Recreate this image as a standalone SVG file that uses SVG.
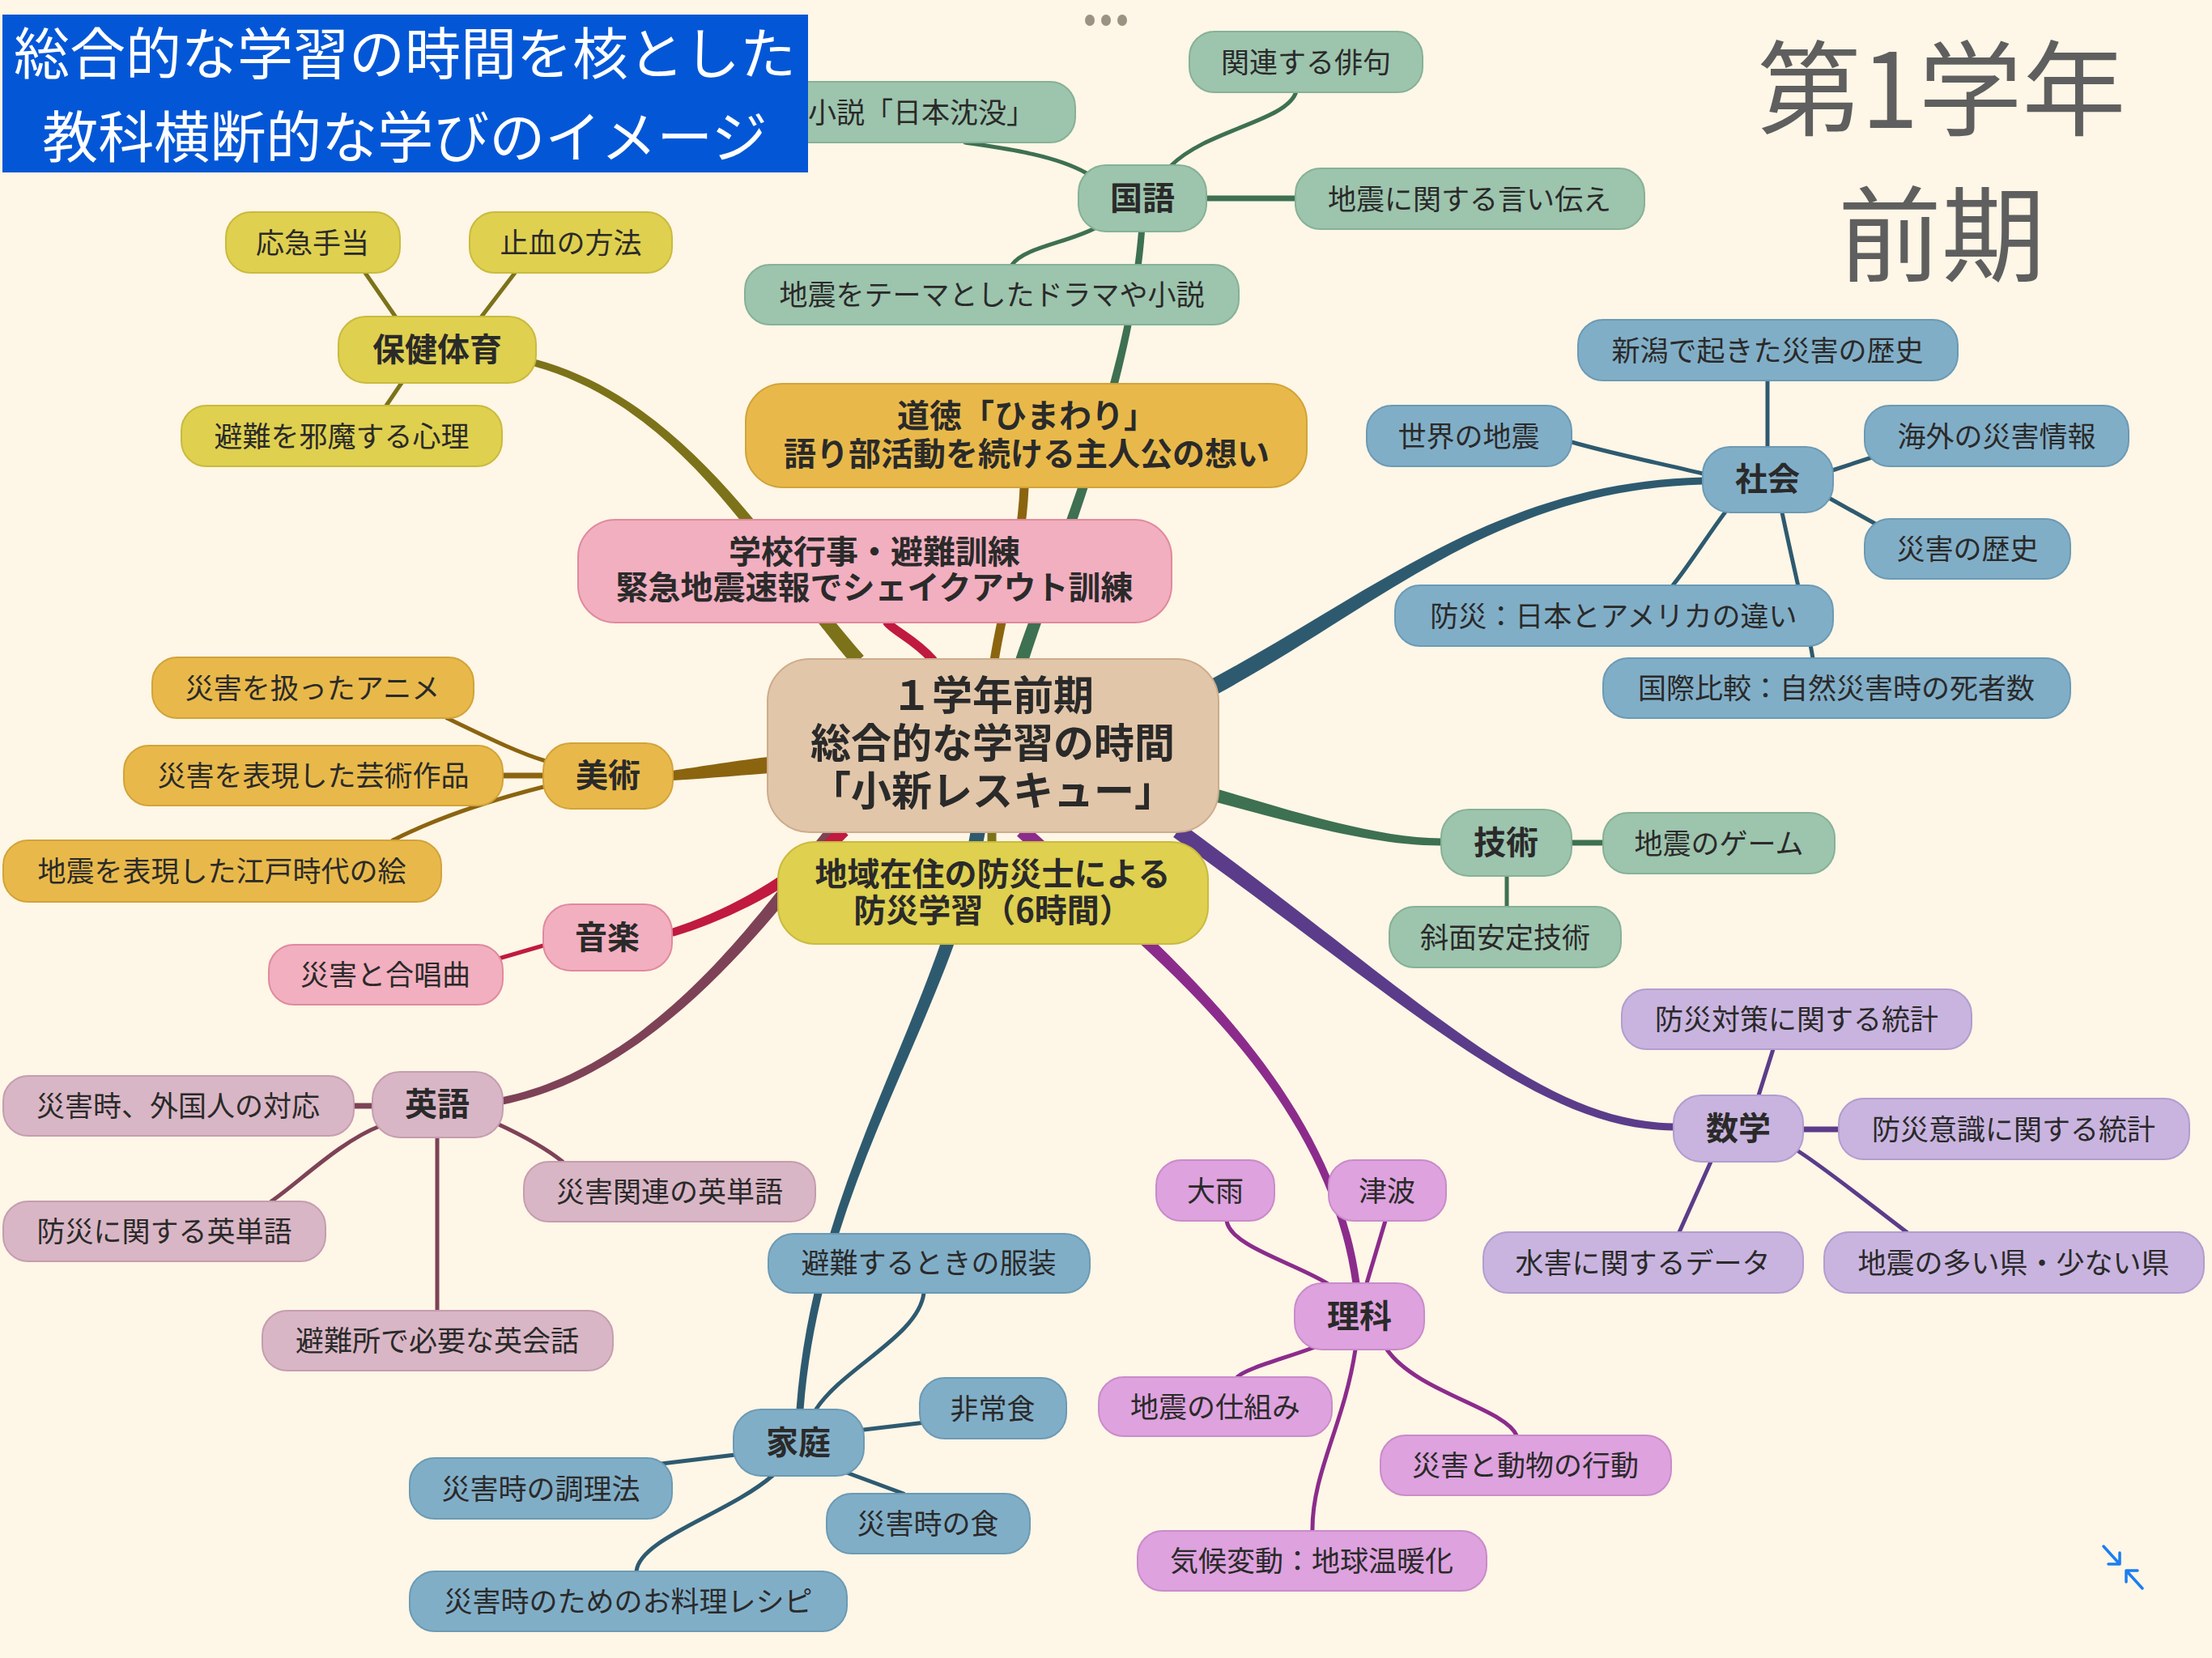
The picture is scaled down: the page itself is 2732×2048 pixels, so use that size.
<svg xmlns="http://www.w3.org/2000/svg" width="2732" height="2048" viewBox="0 0 2732 2048">
<style>
text{font-family:'Noto Sans CJK JP','Noto Sans CJK SC',sans-serif;text-anchor:middle;dominant-baseline:central;fill:#2a2a2a}
.leaf{font-size:35px}
.subj{font-size:40px;font-weight:bold}
.big{font-size:40px;font-weight:bold}
.ctr{font-size:50px;font-weight:bold}
.br{fill:none;stroke-linecap:round;stroke-width:11}
.ln{fill:none;stroke-linecap:round;stroke-width:5}
.g{fill:#9dc4ad;stroke:#86b197;stroke-width:2}
.b{fill:#81aec7;stroke:#6b9ab5;stroke-width:2}
.p{fill:#c9b4df;stroke:#b39ccf;stroke-width:2}
.m{fill:#dea2de;stroke:#c98bca;stroke-width:2}
.v{fill:#d9b6c5;stroke:#c59db0;stroke-width:2}
.k{fill:#f2afbf;stroke:#e0899f;stroke-width:2}
.o{fill:#e8b94a;stroke:#d2a339;stroke-width:2}
.y{fill:#dfd04f;stroke:#c9ba3e;stroke-width:2}
.t{fill:#e2c6a9;stroke:#cdac8d;stroke-width:2}
.cg{stroke:#3e7052}.cb{stroke:#2e5a70}.cp{stroke:#5b3c8a}.cm{stroke:#8b2c8c}.cv{stroke:#7e4257}.ck{stroke:#c01a40}.co{stroke:#8b6410}.cy{stroke:#7c7219}
.fg{fill:#3e7052}.fb{fill:#2e5a70}.fp{fill:#5b3c8a}.fm{fill:#8b2c8c}.fv{fill:#7e4257}.fk{fill:#c01a40}.fo{fill:#8b6410}.fy{fill:#7c7219}
</style>
<rect width="2732" height="2048" fill="#fef6e6"/>
<g id="connectors">
<path class="fy" d="M1066.8,810.1 C956,684.7 851.3,495.2 661.2,443.7 L658.8,452.3 C848.7,504.8 944,695.3 1053.2,821.9 Z"/>
<path class="br co" d="M1228,816 C1240,740 1262,680 1265,602"/>
<path class="fg" d="M1269.6,818.5 C1306.7,702.2 1399.5,480.3 1414,286.3 L1406,285.7 C1390.5,479.7 1293.3,697.8 1254.4,813.5 Z"/>
<path class="br ck" d="M1152,815 C1130,790 1105,780 1096,769"/>
<path class="br cy" d="M1225,1020 L1225,1045"/>
<path class="fb" d="M1504.75,856.8 C1704.3,747.9 1850.1,605 2103.1,598.5 L2102.9,589.5 C1849.9,595 1695.7,732.1 1495.25,839.2 Z"/>
<path class="fg" d="M1497.8,989.7 C1598.1,1016.7 1700,1045 1780,1044.5 L1780,1035.5 C1700,1035 1601.9,1003.3 1502.2,974.3 Z"/>
<path class="fp" d="M1449.1,1034.1 C1750.3,1249.5 1899.9,1395 2066.9,1396.5 L2067.1,1387.5 C1900.1,1385 1759.7,1236.5 1460.9,1017.9 Z"/>
<path class="fm" d="M1256,1032.7 C1394.7,1156 1635,1330.7 1670.5,1585.6 L1679.5,1584.4 C1645,1329.3 1405.3,1144 1268,1019.3 Z"/>
<path class="fb" d="M1199.1,1024.5 C1162.1,1248.7 1005,1449.6 983.5,1740.7 L992.5,1741.3 C1015,1450.4 1177.9,1251.3 1216.9,1027.5 Z"/>
<path class="fv" d="M1023.1,1020.2 C953.9,1104.9 819,1315.1 619.1,1355.6 L620.9,1364.4 C821,1324.9 966.1,1115.1 1036.9,1031.8 Z"/>
<path class="fk" d="M1036.3,1020.4 C974.3,1084.4 898.4,1124.8 828.5,1147.2 L831.5,1156.8 C901.7,1135.2 985.7,1095.6 1047.7,1031.6 Z"/>
<path class="fo" d="M948.9,935.1 C899,941 859.2,948 830.3,952 L831.7,964 C860.8,962 901,959 951.1,954.9 Z"/>
<path class="ln cg" d="M1446,205 C1490,160 1590,150 1601,113"/>
<path class="ln cg" style="stroke-width:7" d="M1490,245 L1600,245"/>
<path class="ln cg" d="M1342,214 C1300,190 1230,182 1192,176"/>
<path class="ln cg" d="M1356,280 C1320,300 1265,305 1250,327"/>
<path class="ln cy" d="M451,337 L489,392"/>
<path class="ln cy" d="M636,337 L594,392"/>
<path class="ln cy" d="M496,473 L477,501"/>
<path class="ln co" d="M674,940 C640,930 600,910 552,887"/>
<path class="ln co" style="stroke-width:7" d="M621,958 L671,958"/>
<path class="ln co" d="M671,972 C600,990 540,1010 485,1038"/>
<path class="ln ck" d="M671,1168 L616,1184"/>
<path class="ln cv" style="stroke-width:7" d="M437,1366 L460,1366"/>
<path class="ln cv" d="M469,1391 C420,1410 370,1460 335,1484"/>
<path class="ln cv" d="M614,1388 C640,1400 670,1415 695,1435"/>
<path class="ln cv" d="M540,1405 L540,1619"/>
<path class="ln cb" d="M1007,1742 C1040,1690 1135,1650 1141,1597"/>
<path class="ln cb" d="M1067,1766 L1143,1757"/>
<path class="ln cb" d="M908,1797 L817,1808"/>
<path class="ln cb" d="M1043,1818 L1116,1845"/>
<path class="ln cb" d="M955,1822 C900,1870 790,1900 786,1941"/>
<path class="ln cb" d="M2183,552 L2183,470"/>
<path class="ln cb" d="M2103,585 C2040,570 1990,560 1941,546"/>
<path class="ln cb" d="M2263,581 L2315,564"/>
<path class="ln cb" d="M2257,614 L2318,648"/>
<path class="ln cb" d="M2132,631 C2110,660 2085,700 2066,723"/>
<path class="ln cb" d="M2201,633 C2215,700 2230,760 2239,813"/>
<path class="ln cg" style="stroke-width:7" d="M1941,1041 L1980,1041"/>
<path class="ln cg" d="M1861,1082 L1861,1120"/>
<path class="ln cp" d="M2172,1353 L2190,1296"/>
<path class="ln cp" style="stroke-width:7" d="M2227,1395 L2271,1395"/>
<path class="ln cp" d="M2113,1435 L2074,1522"/>
<path class="ln cp" d="M2218,1420 C2250,1440 2300,1480 2355,1522"/>
<path class="ln cm" d="M1642,1587 C1600,1560 1520,1540 1515,1508"/>
<path class="ln cm" d="M1688,1585 L1711,1508"/>
<path class="ln cm" d="M1624,1664 C1580,1680 1540,1690 1528,1701"/>
<path class="ln cm" d="M1713,1667 C1750,1720 1860,1740 1873,1773"/>
<path class="ln cm" d="M1674,1667 C1660,1760 1620,1820 1621,1891"/>
</g>
<g id="n-center"><rect class="t" x="948" y="814" width="557" height="214" rx="52"/><text class="ctr"><tspan x="1226" y="855">１学年前期</tspan><tspan x="1226" y="914">総合的な学習の時間</tspan><tspan x="1226" y="973">「小新レスキュー」</tspan></text></g>
<g id="n-doutoku"><rect class="o" x="921" y="474" width="693" height="128" rx="46"/><text class="big"><tspan x="1268" y="511">道徳「ひまわり」</tspan><tspan x="1268" y="558">語り部活動を続ける主人公の想い</tspan></text></g>
<g id="n-gakkou"><rect class="k" x="714" y="642" width="733" height="127" rx="46"/><text class="big"><tspan x="1080" y="679">学校行事・避難訓練</tspan><tspan x="1080" y="723">緊急地震速報でシェイクアウト訓練</tspan></text></g>
<g id="n-chiiki"><rect class="y" x="961" y="1040" width="531" height="126" rx="46"/><text class="big"><tspan x="1226" y="1077">地域在住の防災士による</tspan><tspan x="1226" y="1122">防災学習（6時間）</tspan></text></g>
<g id="n-kokugo"><rect class="g" x="1332" y="204" width="158" height="82" rx="34"/><text class="subj" x="1411" y="242">国語</text></g>
<g id="n-haiku"><rect class="g" x="1469" y="39" width="288" height="75" rx="31"/><text class="leaf" x="1613" y="74">関連する俳句</text></g>
<g id="n-shousetsu"><rect class="g" x="948" y="101" width="380" height="75" rx="31"/><text class="leaf" x="1138" y="136">小説「日本沈没」</text></g>
<g id="n-iitsutae"><rect class="g" x="1600" y="208" width="431" height="75" rx="31"/><text class="leaf" x="1815" y="243">地震に関する言い伝え</text></g>
<g id="n-drama"><rect class="g" x="920" y="327" width="610" height="74" rx="31"/><text class="leaf" x="1225" y="361">地震をテーマとしたドラマや小説</text></g>
<g id="n-hoken"><rect class="y" x="418" y="391" width="244" height="82" rx="34"/><text class="subj" x="540" y="429">保健体育</text></g>
<g id="n-oukyu"><rect class="y" x="279" y="262" width="215" height="75" rx="31"/><text class="leaf" x="386" y="297">応急手当</text></g>
<g id="n-shiketsu"><rect class="y" x="580" y="262" width="250" height="75" rx="31"/><text class="leaf" x="705" y="297">止血の方法</text></g>
<g id="n-jama"><rect class="y" x="224" y="501" width="396" height="75" rx="31"/><text class="leaf" x="422" y="536">避難を邪魔する心理</text></g>
<g id="n-bijutsu"><rect class="o" x="671" y="918" width="160" height="81" rx="34"/><text class="subj" x="751" y="955">美術</text></g>
<g id="n-anime"><rect class="o" x="188" y="812" width="397" height="75" rx="31"/><text class="leaf" x="386" y="847">災害を扱ったアニメ</text></g>
<g id="n-geijutsu"><rect class="o" x="153" y="921" width="468" height="74" rx="31"/><text class="leaf" x="387" y="955">災害を表現した芸術作品</text></g>
<g id="n-edo"><rect class="o" x="4" y="1038" width="541" height="76" rx="31"/><text class="leaf" x="274" y="1073">地震を表現した江戸時代の絵</text></g>
<g id="n-ongaku"><rect class="k" x="671" y="1117" width="159" height="82" rx="34"/><text class="subj" x="750" y="1155">音楽</text></g>
<g id="n-gassho"><rect class="k" x="332" y="1167" width="289" height="74" rx="31"/><text class="leaf" x="476" y="1201">災害と合唱曲</text></g>
<g id="n-eigo"><rect class="v" x="460" y="1324" width="161" height="81" rx="34"/><text class="subj" x="540" y="1361">英語</text></g>
<g id="n-gaikoku"><rect class="v" x="4" y="1329" width="433" height="74" rx="31"/><text class="leaf" x="220" y="1363">災害時、外国人の対応</text></g>
<g id="n-eitango1"><rect class="v" x="4" y="1484" width="398" height="74" rx="31"/><text class="leaf" x="203" y="1518">防災に関する英単語</text></g>
<g id="n-eitango2"><rect class="v" x="647" y="1435" width="360" height="74" rx="31"/><text class="leaf" x="827" y="1469">災害関連の英単語</text></g>
<g id="n-eikaiwa"><rect class="v" x="324" y="1619" width="433" height="74" rx="31"/><text class="leaf" x="540" y="1653">避難所で必要な英会話</text></g>
<g id="n-fukusou"><rect class="b" x="949" y="1524" width="397" height="73" rx="31"/><text class="leaf" x="1147" y="1557">避難するときの服装</text></g>
<g id="n-katei"><rect class="b" x="906" y="1741" width="161" height="82" rx="34"/><text class="subj" x="986" y="1779">家庭</text></g>
<g id="n-hijoshoku"><rect class="b" x="1136" y="1702" width="181" height="75" rx="31"/><text class="leaf" x="1226" y="1737">非常食</text></g>
<g id="n-chouri"><rect class="b" x="506" y="1801" width="324" height="75" rx="31"/><text class="leaf" x="668" y="1836">災害時の調理法</text></g>
<g id="n-shoku"><rect class="b" x="1021" y="1845" width="251" height="74" rx="31"/><text class="leaf" x="1146" y="1879">災害時の食</text></g>
<g id="n-recipe"><rect class="b" x="506" y="1941" width="540" height="74" rx="31"/><text class="leaf" x="776" y="1975">災害時のためのお料理レシピ</text></g>
<g id="n-niigata"><rect class="b" x="1949" y="395" width="469" height="75" rx="31"/><text class="leaf" x="2183" y="430">新潟で起きた災害の歴史</text></g>
<g id="n-sekai"><rect class="b" x="1688" y="501" width="253" height="75" rx="31"/><text class="leaf" x="1814" y="536">世界の地震</text></g>
<g id="n-shakai"><rect class="b" x="2103" y="552" width="161" height="81" rx="34"/><text class="subj" x="2183" y="589">社会</text></g>
<g id="n-kaigai"><rect class="b" x="2303" y="501" width="326" height="75" rx="31"/><text class="leaf" x="2466" y="536">海外の災害情報</text></g>
<g id="n-rekishi"><rect class="b" x="2303" y="641" width="254" height="74" rx="31"/><text class="leaf" x="2430" y="675">災害の歴史</text></g>
<g id="n-nichibei"><rect class="b" x="1723" y="723" width="541" height="75" rx="31"/><text class="leaf" x="1993" y="758">防災：日本とアメリカの違い</text></g>
<g id="n-kokusai"><rect class="b" x="1980" y="813" width="577" height="74" rx="31"/><text class="leaf" x="2268" y="847">国際比較：自然災害時の死者数</text></g>
<g id="n-gijutsu"><rect class="g" x="1780" y="1000" width="161" height="82" rx="34"/><text class="subj" x="1860" y="1038">技術</text></g>
<g id="n-game"><rect class="g" x="1980" y="1004" width="286" height="75" rx="31"/><text class="leaf" x="2123" y="1039">地震のゲーム</text></g>
<g id="n-shamen"><rect class="g" x="1716" y="1120" width="286" height="75" rx="31"/><text class="leaf" x="1859" y="1155">斜面安定技術</text></g>
<g id="n-taisaku"><rect class="p" x="2003" y="1222" width="432" height="74" rx="31"/><text class="leaf" x="2219" y="1256">防災対策に関する統計</text></g>
<g id="n-suugaku"><rect class="p" x="2067" y="1353" width="160" height="82" rx="34"/><text class="subj" x="2147" y="1391">数学</text></g>
<g id="n-ishiki"><rect class="p" x="2271" y="1357" width="433" height="75" rx="31"/><text class="leaf" x="2487" y="1392">防災意識に関する統計</text></g>
<g id="n-suigai"><rect class="p" x="1832" y="1522" width="395" height="75" rx="31"/><text class="leaf" x="2029" y="1557">水害に関するデータ</text></g>
<g id="n-ken"><rect class="p" x="2253" y="1522" width="469" height="75" rx="31"/><text class="leaf" x="2487" y="1557">地震の多い県・少ない県</text></g>
<g id="n-ooame"><rect class="m" x="1428" y="1433" width="146" height="75" rx="31"/><text class="leaf" x="1501" y="1468">大雨</text></g>
<g id="n-tsunami"><rect class="m" x="1641" y="1433" width="145" height="75" rx="31"/><text class="leaf" x="1713" y="1468">津波</text></g>
<g id="n-rika"><rect class="m" x="1599" y="1585" width="160" height="82" rx="34"/><text class="subj" x="1679" y="1623">理科</text></g>
<g id="n-shikumi"><rect class="m" x="1357" y="1701" width="288" height="73" rx="31"/><text class="leaf" x="1501" y="1735">地震の仕組み</text></g>
<g id="n-doubutsu"><rect class="m" x="1705" y="1773" width="359" height="74" rx="31"/><text class="leaf" x="1884" y="1807">災害と動物の行動</text></g>
<g id="n-kikou"><rect class="m" x="1405" y="1891" width="431" height="74" rx="31"/><text class="leaf" x="1620" y="1925">気候変動：地球温暖化</text></g>
<g id="title">
<rect x="3" y="18" width="995" height="195" fill="#0357d6"/>
<text style="font-size:69px;fill:#ffffff"><tspan x="500" y="62">総合的な学習の時間を核とした</tspan><tspan x="500" y="165">教科横断的な学びのイメージ</tspan></text>
</g>
<g id="heading">
<text style="font-size:128px;fill:#5f5f5f"><tspan x="2398" y="102">第1学年</tspan><tspan x="2398" y="282">前期</tspan></text>
</g>
<g id="menu-dots" fill="#9c9282"><ellipse cx="1346" cy="25" rx="6" ry="7"/><ellipse cx="1366" cy="25" rx="6" ry="7"/><ellipse cx="1386" cy="25" rx="6" ry="7"/></g>
<g id="collapse-icon" fill="none" stroke="#1a7ef2" stroke-width="3.5" stroke-linecap="round" stroke-linejoin="round">
<path d="M2598,1910 L2618,1932 M2618,1918 L2618,1932 L2604,1932"/>
<path d="M2646,1962 L2626,1940 M2626,1954 L2626,1940 L2640,1940"/>
</g>
</svg>
